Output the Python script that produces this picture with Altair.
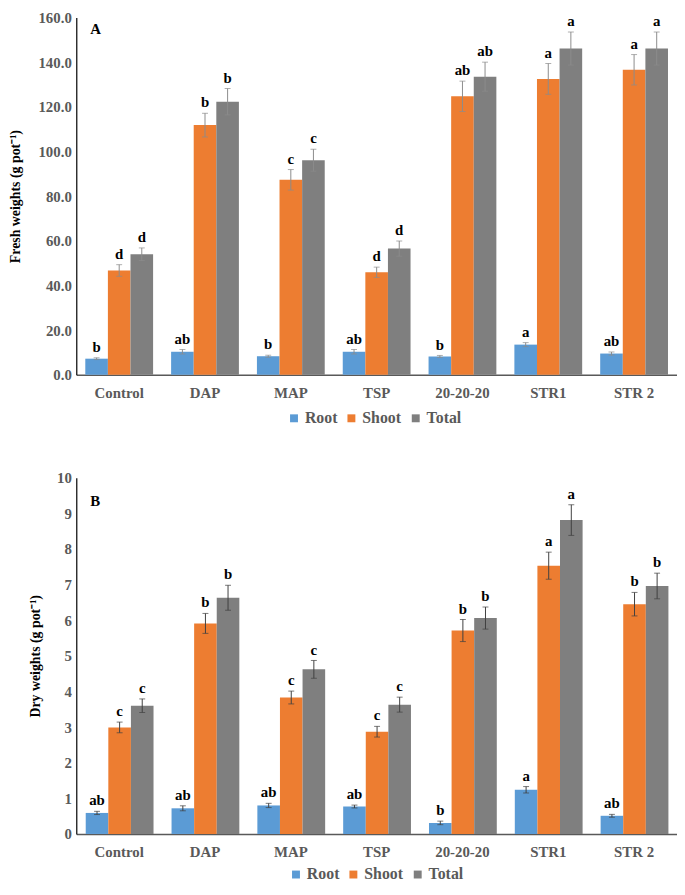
import altair as alt
import pandas as pd

categories = ["Control", "DAP", "MAP", "TSP", "20-20-20", "STR1", "STR 2"]
series = ["Root", "Shoot", "Total"]
colors = ["#5B9BD5", "#ED7D31", "#7F7F7F"]

fresh_root = [7.2, 10.3, 8.3, 10.3, 8.2, 13.5, 9.5]
fresh_root_err = [0.4, 1.0, 0.45, 1.0, 0.45, 0.9, 0.7]
fresh_shoot = [46.7, 111.8, 87.3, 45.9, 124.7, 132.5, 136.6]
fresh_shoot_err = [2.6, 5.3, 4.6, 2.3, 6.8, 6.9, 6.8]
fresh_total = [54.0, 122.3, 96.1, 56.5, 133.5, 146.1, 146.1]
fresh_total_err = [2.8, 5.9, 4.9, 3.4, 6.5, 7.4, 7.4]
fresh_root_letters = ["b", "ab", "b", "ab", "b", "a", "ab"]
fresh_shoot_letters = ["d", "b", "c", "d", "ab", "a", "a"]
fresh_total_letters = ["d", "b", "c", "d", "ab", "a", "a"]

dry_root = [0.59, 0.72, 0.80, 0.77, 0.31, 1.24, 0.51]
dry_root_err = [0.045, 0.07, 0.06, 0.04, 0.05, 0.09, 0.04]
dry_shoot = [2.99, 5.91, 3.83, 2.87, 5.71, 7.53, 6.45]
dry_shoot_err = [0.15, 0.28, 0.18, 0.15, 0.31, 0.38, 0.33]
dry_total = [3.60, 6.63, 4.62, 3.63, 6.06, 8.81, 6.96]
dry_total_err = [0.19, 0.35, 0.25, 0.21, 0.31, 0.43, 0.36]
dry_root_letters = ["ab", "ab", "ab", "ab", "b", "a", "ab"]
dry_shoot_letters = ["c", "b", "c", "c", "b", "a", "b"]
dry_total_letters = ["c", "b", "c", "c", "b", "a", "b"]

fresh_ticks = [0, 20, 40, 60, 80, 100, 120, 140, 160]
dry_ticks = [0, 1, 2, 3, 4, 5, 6, 7, 8, 9, 10]

FONT = "Liberation Serif"


def build_df(vals, errs, lets):
    rows = []
    for s, v, e, l in zip(series, vals, errs, lets):
        for c, vv, ee, ll in zip(categories, v, e, l):
            rows.append({"category": c, "series": s, "value": vv,
                         "lo": vv - ee, "hi": vv + ee, "letter": ll})
    return pd.DataFrame(rows)


def panel(df, ymax, ticks, fmt, ytitle, label, width, height, err_color,
          title_pad, legend_x, legend_y, label_x, label_y, pad_inner):
    yscale = alt.Scale(domain=[0, ymax], nice=False)
    yaxis = alt.Axis(values=ticks, format=fmt, grid=False, ticks=False,
                     labelOverlap=False, tickCount=len(ticks),
                     title=ytitle, titleFont=FONT, titleFontSize=14,
                     titleFontWeight="bold", titleColor="black",
                     titlePadding=title_pad,
                     labelFont=FONT, labelFontSize=15,
                     labelFontWeight="bold", labelColor="#595959",
                     labelPadding=5, domainColor="black", domainWidth=1.2)
    base = alt.Chart(df).encode(
        x=alt.X("category:N", sort=categories,
                scale=alt.Scale(paddingInner=pad_inner, paddingOuter=pad_inner / 2),
                axis=alt.Axis(title=None, labelAngle=0, ticks=False,
                              labelFont=FONT, labelFontSize=15,
                              labelFontWeight="bold", labelColor="#595959",
                              labelPadding=11, domainColor="#595959",
                              domainWidth=1.5)),
        xOffset=alt.XOffset("series:N", sort=series,
                            scale=alt.Scale(paddingInner=0, paddingOuter=0)),
    )
    bars = base.mark_bar().encode(
        y=alt.Y("value:Q", scale=yscale, axis=yaxis, title=ytitle),
        color=alt.Color("series:N", sort=series,
                        scale=alt.Scale(domain=series, range=colors),
                        legend=alt.Legend(orient="none", legendX=legend_x,
                                          legendY=legend_y,
                                          direction="horizontal", title=None,
                                          symbolType="square", symbolSize=64,
                                          symbolStrokeWidth=0,
                                          labelFont=FONT, labelFontSize=16,
                                          labelFontWeight="bold",
                                          labelColor="#595959",
                                          columnPadding=6, labelOffset=3)),
    )
    rules = base.mark_rule(color=err_color, strokeWidth=1).encode(
        y=alt.Y("lo:Q", scale=yscale, axis=yaxis, title=ytitle),
        y2=alt.Y2("hi:Q"))
    cap_hi = base.mark_tick(color=err_color, size=6, thickness=1).encode(
        y=alt.Y("hi:Q", scale=yscale, axis=yaxis, title=ytitle))
    cap_lo = base.mark_tick(color=err_color, size=6, thickness=1).encode(
        y=alt.Y("lo:Q", scale=yscale, axis=yaxis, title=ytitle))
    letters = base.mark_text(font=FONT, fontSize=15, fontWeight="bold",
                             color="black", baseline="bottom", dy=-3).encode(
        y=alt.Y("hi:Q", scale=yscale, axis=yaxis, title=ytitle),
        text="letter:N")
    tag = alt.Chart(pd.DataFrame({"t": [label]})).mark_text(
        font=FONT, fontSize=15, fontWeight="bold", color="black",
        align="left", baseline="middle").encode(
        x=alt.value(label_x), y=alt.value(label_y), text="t:N")
    return alt.layer(bars, rules, cap_hi, cap_lo, letters, tag).properties(
        width=width, height=height)


dfA = build_df([fresh_root, fresh_shoot, fresh_total],
               [fresh_root_err, fresh_shoot_err, fresh_total_err],
               [fresh_root_letters, fresh_shoot_letters, fresh_total_letters])
dfB = build_df([dry_root, dry_shoot, dry_total],
               [dry_root_err, dry_shoot_err, dry_total_err],
               [dry_root_letters, dry_shoot_letters, dry_total_letters])

A = panel(dfA, 160, fresh_ticks, ".1f", "Fresh weights (g pot⁻¹)", "A",
          607, 361, "#8C8C8C", 16, 212, 397, 14, 12, 0.21)
B = panel(dfB, 10, dry_ticks, "d", "Dry weights (g pot⁻¹)", "B",
          607, 360, "#404040", 14, 214, 393, 14, 24, 0.22)

chart = alt.vconcat(A, B, spacing=45).resolve_scale(
    color="independent").properties(
    padding={"left": 0, "top": -2, "right": 0, "bottom": 0}
).configure_view(stroke=None)

chart.save("out.html", embed_options={"renderer": "svg", "actions": False})
